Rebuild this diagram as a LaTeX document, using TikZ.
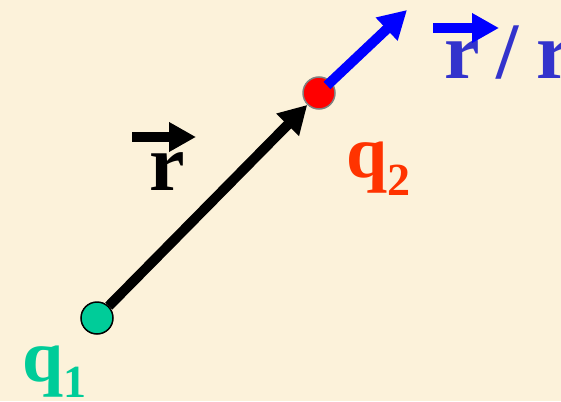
\documentclass[tikz,border=0pt]{standalone}
\usepackage{fontspec}
\setmainfont{Liberation Serif}
\usetikzlibrary{arrows.meta,calc}
\definecolor{paper}{HTML}{FCF2DA}
\definecolor{qone}{HTML}{00CC99}
\definecolor{qtwo}{HTML}{FF3300}
\definecolor{vecblue}{HTML}{3333CC}
\tikzset{
  charge/.style={circle, minimum size=32pt, inner sep=0pt, line width=1.5pt},
  bigtxt/.style={inner sep=0pt, anchor=base west, font=\bfseries\fontsize{80}{80}\selectfont},
  qtxt/.style={inner sep=0pt, anchor=base west, font=\bfseries\fontsize{74}{74}\selectfont},
  vecline/.style={line width=10pt, -{Triangle[length=28pt,width=30pt]}},
  overarrow/.style={line width=10pt, -{Triangle[length=27pt,width=28pt]}}
}
\begin{document}
\begin{tikzpicture}[x=1pt,y=-1pt]
\fill[paper] (0,0) rectangle (561,401);
\useasboundingbox (0,0) rectangle (561,401);
% charges
\node[charge, fill=qone, draw=black] (q1) at (97,318) {};
\node[charge, fill=red, draw=gray] (q2) at (319,93) {};
\coordinate (tipB) at (407,10);
% connectors
\draw[vecline, black] (q1) -- (q2);
\draw[vecline, blue] ($(q2.center)!11pt!(tipB)$) -- (tipB);
% labels
\node[qtxt, text=qone] (lq1) at (22,381) {q\raisebox{-16pt}{\fontsize{46}{46}\selectfont 1}};
\node[qtxt, text=qtwo] (lq2) at (346,177) {q\raisebox{-18pt}{\fontsize{46}{46}\selectfont 2}};
\node[bigtxt, text=black] (lr) at (149,190) {r};
\coordinate (rA) at (132,137);
\coordinate (rB) at (196,137);
\draw[overarrow, black] (rA) -- (rB);
\node[bigtxt, text=vecblue] (lrr) at (444,79) {r\hspace{17pt}/\hspace{18pt}r};
\coordinate (bA) at (433,28);
\coordinate (bB) at (499,28);
\draw[overarrow, blue] (bA) -- (bB);
\end{tikzpicture}
\end{document}
